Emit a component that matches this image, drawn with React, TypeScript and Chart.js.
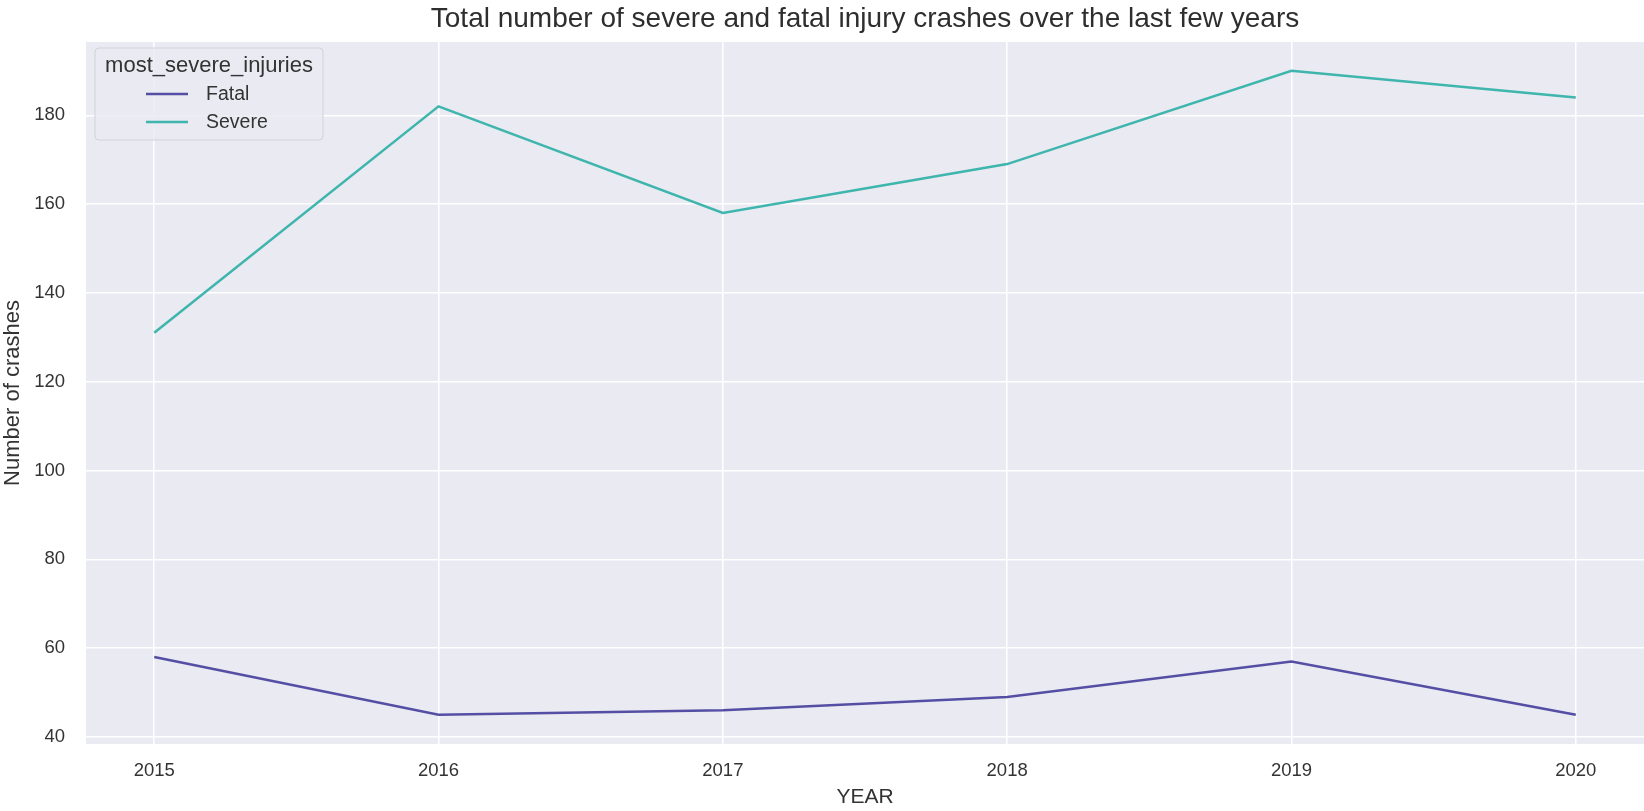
import React, { useEffect, useRef } from "react";
import { Chart, registerables } from "chart.js";

Chart.register(...registerables);

const years = [2015, 2016, 2017, 2018, 2019, 2020];
const fatalValues = [58, 45, 46, 49, 57, 45];
const severeValues = [131, 182, 158, 169, 190, 184];
const yTicks = [40, 60, 80, 100, 120, 140, 160, 180];
const seriesNames = ["Fatal", "Severe"];
const seriesColors = ["#544fa4", "#3eb5ad"];
const legendTitle = "most_severe_injuries";
const chartTitle = "Total number of severe and fatal injury crashes over the last few years";
const xTitle = "YEAR";
const yTitle = "Number of crashes";

const FONT = "'Liberation Sans', Arial, sans-serif";

const bgPlugin = {
  id: "plotBg",
  beforeDraw(chart: any) {
    const { ctx, chartArea } = chart;
    ctx.save();
    ctx.fillStyle = "#ffffff";
    ctx.fillRect(0, 0, chart.width, chart.height);
    ctx.fillStyle = "#eaeaf2";
    ctx.fillRect(chartArea.left, chartArea.top, chartArea.right - chartArea.left, chartArea.bottom - chartArea.top);
    ctx.restore();
  },
};

const titlePlugin = {
  id: "plotTitle",
  afterDraw(chart: any) {
    const { ctx, chartArea } = chart;
    ctx.save();
    ctx.fillStyle = "#2e2e2e";
    ctx.font = `28px ${FONT}`;
    ctx.textAlign = "center";
    ctx.textBaseline = "alphabetic";
    ctx.fillText(chartTitle, (chartArea.left + chartArea.right) / 2, 27);
    ctx.restore();
  },
};

const legendPlugin = {
  id: "customLegend",
  afterDraw(chart: any) {
    const { ctx, chartArea } = chart;
    const x0 = chartArea.left + 9;
    const y0 = chartArea.top + 6;
    const w = 228;
    const h = 92;
    ctx.save();
    ctx.beginPath();
    const r = 4;
    ctx.moveTo(x0 + r, y0);
    ctx.lineTo(x0 + w - r, y0);
    ctx.quadraticCurveTo(x0 + w, y0, x0 + w, y0 + r);
    ctx.lineTo(x0 + w, y0 + h - r);
    ctx.quadraticCurveTo(x0 + w, y0 + h, x0 + w - r, y0 + h);
    ctx.lineTo(x0 + r, y0 + h);
    ctx.quadraticCurveTo(x0, y0 + h, x0, y0 + h - r);
    ctx.lineTo(x0, y0 + r);
    ctx.quadraticCurveTo(x0, y0, x0 + r, y0);
    ctx.closePath();
    ctx.fillStyle = "rgba(234,234,242,0.85)";
    ctx.fill();
    ctx.strokeStyle = "#d2d2da";
    ctx.lineWidth = 1;
    ctx.stroke();

    ctx.fillStyle = "#333333";
    ctx.textBaseline = "middle";
    ctx.textAlign = "center";
    ctx.font = `22px ${FONT}`;
    ctx.fillText(legendTitle, x0 + w / 2, y0 + 18);

    ctx.textAlign = "left";
    ctx.font = `19.5px ${FONT}`;
    seriesNames.forEach((name, i) => {
      const cy = y0 + 46 + i * 28;
      ctx.strokeStyle = seriesColors[i];
      ctx.lineWidth = 2.5;
      ctx.beginPath();
      ctx.moveTo(x0 + 51, cy);
      ctx.lineTo(x0 + 93, cy);
      ctx.stroke();
      ctx.fillStyle = "#333333";
      ctx.fillText(name, x0 + 111, cy + 1);
    });
    ctx.restore();
  },
};

export default function App() {
  const ref = useRef<HTMLCanvasElement | null>(null);
  useEffect(() => {
    if (!ref.current) return;
    const chart = new Chart(ref.current, {
      type: "line",
      data: {
        datasets: [
          {
            label: seriesNames[0],
            data: years.map((y, i) => ({ x: y, y: fatalValues[i] })),
            borderColor: seriesColors[0],
            backgroundColor: seriesColors[0],
            borderWidth: 2.5,
            pointRadius: 0,
            tension: 0,
          },
          {
            label: seriesNames[1],
            data: years.map((y, i) => ({ x: y, y: severeValues[i] })),
            borderColor: seriesColors[1],
            backgroundColor: seriesColors[1],
            borderWidth: 2.5,
            pointRadius: 0,
            tension: 0,
          },
        ],
      },
      options: {
        animation: false,
        responsive: true,
        maintainAspectRatio: false,
        layout: { padding: { top: 42, left: 0, right: 0, bottom: 0 } },
        plugins: {
          legend: { display: false },
          tooltip: { enabled: false },
          title: { display: false },
        },
        scales: {
          x: {
            type: "linear",
            min: 2014.76,
            max: 2020.24,
            afterBuildTicks: (scale: any) => {
              scale.ticks = years.map((v) => ({ value: v }));
            },
            afterFit: (scale: any) => {
              scale.height = 67;
            },
            ticks: {
              color: "#333333",
              font: { family: FONT, size: 18.5 },
              padding: 16,
              callback: (v: any) => String(v),
              maxRotation: 0,
              autoSkip: false,
            },
            grid: { color: "#ffffff", lineWidth: 1.5, drawTicks: false },
            border: { display: false },
            title: {
              display: true,
              text: xTitle,
              color: "#333333",
              font: { family: FONT, size: 21 },
              padding: { top: 0, bottom: 1.5 },
            },
          },
          y: {
            type: "linear",
            min: 38.4,
            max: 196.5,
            afterBuildTicks: (scale: any) => {
              scale.ticks = yTicks.map((v) => ({ value: v }));
            },
            afterFit: (scale: any) => {
              scale.width = 86;
            },
            ticks: {
              color: "#333333",
              font: { family: FONT, size: 18.5 },
              padding: 21,
              callback: (v: any) => String(v),
            },
            grid: { color: "#ffffff", lineWidth: 1.5, drawTicks: false },
            border: { display: false },
            title: {
              display: true,
              text: yTitle,
              color: "#333333",
              font: { family: FONT, size: 22 },
              padding: { top: 0, bottom: 0 },
            },
          },
        },
      } as any,
      plugins: [bgPlugin, titlePlugin, legendPlugin],
    });
    return () => chart.destroy();
  }, []);
  return (
    <div style={{ position: "absolute", left: 0, top: 0, width: 1644, height: 811 }}>
      <canvas ref={ref} />
    </div>
  );
}
